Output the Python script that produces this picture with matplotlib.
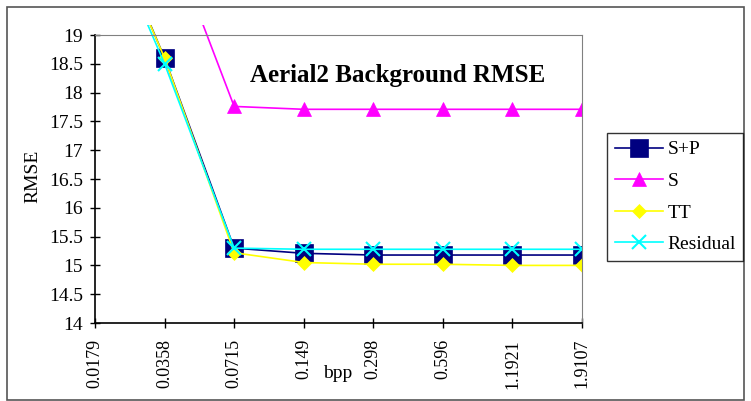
import matplotlib.pyplot as plt
from matplotlib.patches import Rectangle

plt.rcParams['font.family'] = ['Liberation Serif', 'DejaVu Serif']

bpp = ["0.0179", "0.0358", "0.0715", "0.149", "0.298", "0.596", "1.1921", "1.9107"]
sp = [21.45, 18.6, 15.3, 15.21, 15.18, 15.18, 15.18, 15.18]
s = [23.5, 20.93, 17.76, 17.71, 17.71, 17.71, 17.71, 17.71]
tt = [21.4, 18.6, 15.22, 15.05, 15.02, 15.02, 15.0, 15.0]
resid = [21.3, 18.5, 15.3, 15.28, 15.28, 15.28, 15.28, 15.28]

W, H = 751, 401
fig = plt.figure(figsize=(W / 100, H / 100), dpi=100)
# plot area in pixels: x 95..582, y 35..323
ax = fig.add_axes([95 / W, 1 - 323 / H, (582 - 95) / W, (323 - 35) / H])

x = list(range(len(bpp)))
series = [
    (sp, "S+P", "#000080", "s", 13),
    (s, "S", "#ff00ff", "^", 10),
    (tt, "TT", "#ffff00", "D", 7),
    (resid, "Residual", "#00ffff", "x", 10),
]
# lines run a little past the top of the plot area, like the original
clip = Rectangle((0, 0), 1, 1 + 10 / 288, transform=ax.transAxes, visible=False)
ax.add_patch(clip)
for ys, lab, col, mk, ms in series:
    ln, = ax.plot(x, ys, color=col, marker=mk, markersize=ms, lw=1.2, label=lab,
                  markeredgewidth=1.5 if mk == "x" else 0.5)
    ln.set_clip_path(clip)

ax.set_xlim(0, len(bpp) - 1)
ax.set_ylim(14, 19)
ax.set_yticks([14 + 0.5 * i for i in range(11)])
ax.set_yticklabels(["14", "14.5", "15", "15.5", "16", "16.5", "17", "17.5", "18", "18.5", "19"])
ax.set_xticks(x)
ax.set_xticklabels(bpp, rotation=90)
ax.tick_params(direction="inout", length=7, width=1)
ax.tick_params(axis="y", labelsize=14, pad=5)
ax.tick_params(axis="x", labelsize=13, pad=8)
for side in ["top", "right"]:
    ax.spines[side].set_color("#808080")
for side in ["left", "bottom"]:
    ax.spines[side].set_linewidth(1.2)

ax.text(0.622, 0.86, "Aerial2 Background RMSE", transform=ax.transAxes,
        ha="center", va="center", fontsize=18, fontweight="bold")
fig.text(33 / W, 1 - 176 / H, "RMSE", rotation=90, ha="center", va="center", fontsize=14)
fig.text(338 / W, 1 - 374 / H, "bpp", ha="center", va="center", fontsize=14)

leg = fig.legend(loc="upper left", bbox_to_anchor=(607 / W, 1 - 133 / H), fontsize=14,
                 frameon=True, fancybox=False, edgecolor="black", borderpad=0.4,
                 handlelength=2.5, labelspacing=0.72, handletextpad=0.2, borderaxespad=0)
leg.get_frame().set_linewidth(1)

fig.patches.append(Rectangle((7 / W, 1 - 400 / H), (744 - 7) / W, (400 - 7) / H,
                             transform=fig.transFigure, fill=False, edgecolor="#555555", lw=1.2))

fig.savefig("out.png", dpi=100)
